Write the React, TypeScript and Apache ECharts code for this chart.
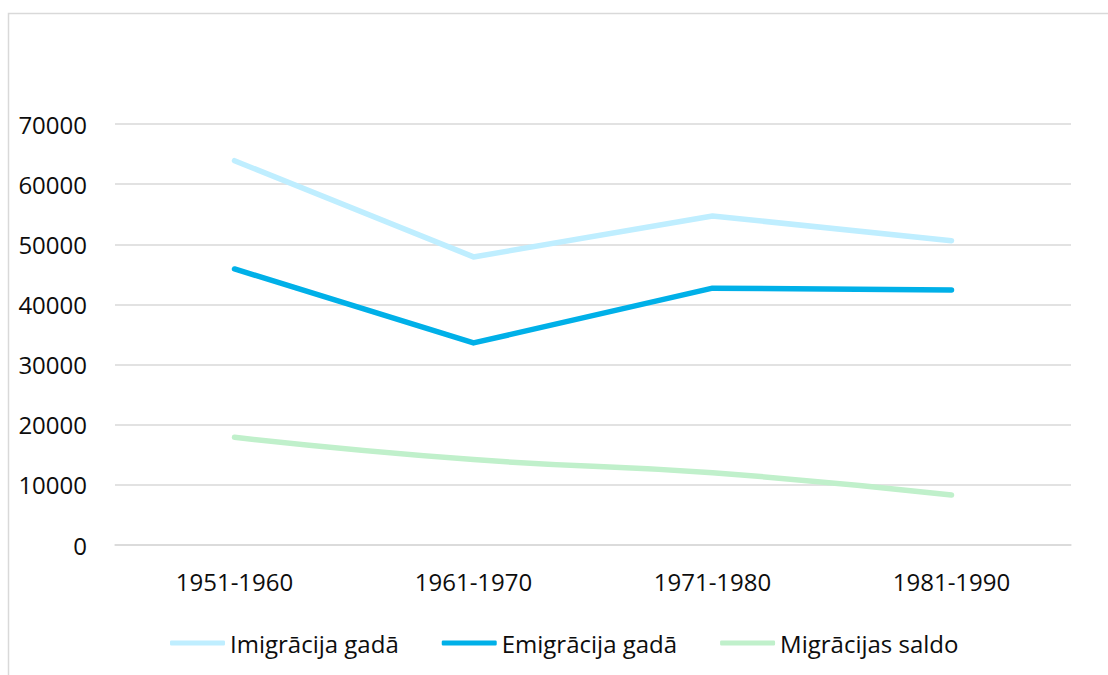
import React, { useEffect, useRef } from "react";
import * as echarts from "echarts";

const categories = ["1951-1960", "1961-1970", "1971-1980", "1981-1990"];
const imigracija = [63900, 47900, 54700, 50600];
const emigracija = [45900, 33600, 42700, 42400];
const saldo = [17900, 14200, 12000, 8300];
const yTicks = [0, 10000, 20000, 30000, 40000, 50000, 60000, 70000];

export default function App() {
  const ref = useRef<HTMLDivElement>(null);
  useEffect(() => {
    document.body.style.margin = "0";
    const chart = echarts.init(ref.current!, null, { renderer: "svg" });
    const font = "'Open Sans', 'Noto Sans', sans-serif";
    const lineSeries = (name: string, data: number[], color: string, smooth: boolean) => ({
      name,
      type: "line",
      data,
      smooth,
      symbol: "none",
      lineStyle: { color, width: 5.5, cap: "round", join: "round" },
      itemStyle: { color },
    });
    chart.setOption({
      animation: false,
      backgroundColor: "#fff",
      textStyle: { fontFamily: font },
      graphic: [
        {
          type: "rect",
          shape: { x: 8.5, y: 13.5, width: 1200, height: 800 },
          style: { fill: "none", stroke: "#d9d9d9", lineWidth: 1.5 },
          silent: true,
        },
      ],
      grid: { left: 115, right: 37, top: 124, bottom: 130, containLabel: false },
      xAxis: {
        type: "category",
        data: categories,
        boundaryGap: true,
        axisLine: { show: true, lineStyle: { color: "#d9d9d9", width: 1.5 } },
        axisTick: { show: false },
        axisLabel: { color: "#0d0d0d", fontSize: 24, fontFamily: font, margin: 24 },
      },
      yAxis: {
        type: "value",
        min: yTicks[0],
        max: yTicks[yTicks.length - 1],
        interval: 10000,
        axisLine: { show: false },
        axisTick: { show: false },
        splitLine: { lineStyle: { color: "#d9d9d9", width: 1.5 } },
        axisLabel: {
          color: "#0d0d0d",
          fontSize: 24,
          fontFamily: font,
          margin: 28,
          formatter: (v: number) => String(v),
        },
      },
      legend: {
        left: 165,
        top: 626,
        itemWidth: 55,
        itemHeight: 5,
        itemGap: 43,
        icon: "roundRect",
        textStyle: { color: "#0d0d0d", fontSize: 24, fontFamily: font },
        data: ["Imigrācija gadā", "Emigrācija gadā", "Migrācijas saldo"],
      },
      series: [
        lineSeries("Imigrācija gadā", imigracija, "#BFEEFF", false),
        lineSeries("Emigrācija gadā", emigracija, "#00B0E8", false),
        lineSeries("Migrācijas saldo", saldo, "#C0F0CB", true),
      ],
    });
    return () => chart.dispose();
  }, []);
  return <div ref={ref} style={{ width: 1108, height: 675 }} />;
}
